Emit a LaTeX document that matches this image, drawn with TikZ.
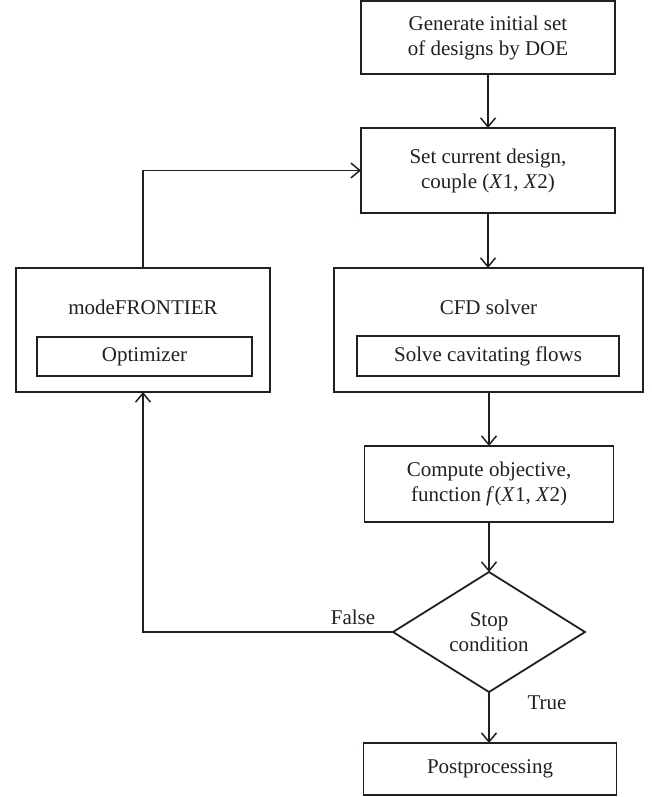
\documentclass[tikz,border=0pt]{standalone}
\usepackage{fontspec}
\setmainfont{Liberation Serif}
\usetikzlibrary{arrows.meta,shapes.geometric}
\definecolor{ink}{RGB}{35,31,32}
\tikzset{
  box/.style={draw=ink, line width=1.8pt, rectangle, inner sep=0pt, outer sep=0pt, align=center, text=ink},
  decision/.style={draw=ink, line width=1.8pt, diamond, inner sep=0pt, outer sep=0pt, align=center, text=ink,
    minimum width=192pt, minimum height=120pt},
  lbl/.style={inner sep=0pt, text=ink},
  conn/.style={draw=ink, line width=1.8pt, -{Straight Barb[length=9pt,width=15pt,line width=1.5pt]}},
  plain/.style={draw=ink, line width=1.8pt}
}
\begin{document}
\begin{tikzpicture}[x=1pt,y=-1pt,font=\fontsize{21}{25}\selectfont]
\useasboundingbox (0,0) rectangle (651,797);
% right column
\node[box, minimum width=254pt, minimum height=73pt] (gen) at (488,37.5) {Generate initial set\\of designs by DOE};
\node[box, minimum width=254pt, minimum height=85pt] (set) at (488,170.5) {Set current design,\\couple (\textit{X}1, \textit{X}2)};
\node[box, minimum width=309pt, minimum height=124pt] (cfd) at (488.5,330) {};
\node[lbl] (cfdt) at (488.5,307) {CFD solver};
\node[box, minimum width=262pt, minimum height=40pt] (solve) at (488,356) {Solve cavitating flows};
\node[box, minimum width=249pt, minimum height=76pt] (comp) at (489,484) {Compute objective,\\function \textit{f}(\textit{X}1, \textit{X}2)};
\node[decision] (stop) at (489,632) {Stop\\condition};
\node[box, minimum width=253pt, minimum height=52pt] (post) at (490,769) {Postprocessing};
% left column
\node[box, minimum width=254pt, minimum height=124pt] (mf) at (143,330) {};
\node[lbl] (mft) at (143,307) {modeFRONTIER};
\node[box, minimum width=215pt, minimum height=39pt] (opt) at (144.5,356.5) {Optimizer};
% labels
\node[lbl] (false) at (353,617) {False};
\node[lbl] (true) at (547,703) {True};
% connectors
\draw[conn] (gen.south) -- (set.north);
\draw[conn] (set.south) -- (set.south |- cfd.north);
\draw[conn] (cfd.south -| comp.north) -- (comp.north);
\draw[conn] (comp.south) -- (stop.north);
\draw[conn] (stop.south) -- (stop.south |- post.north);
\draw[conn] (stop.west) -| (mf.south);
\draw[conn] (mf.north) |- (set.west);
\end{tikzpicture}
\end{document}
